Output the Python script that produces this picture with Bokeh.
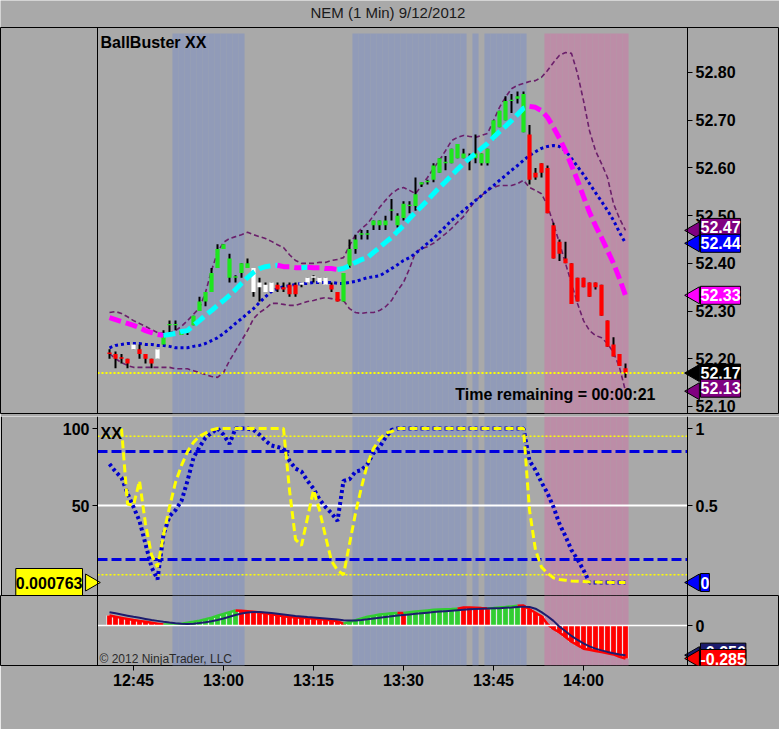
import numpy as np
from bokeh.plotting import figure
from bokeh.models import Range1d, LinearAxis, FixedTicker, Label, NumeralTickFormatter
from bokeh.layouts import column
from bokeh.embed import file_html
from bokeh.resources import INLINE

# ---------------- data ----------------
title_text = "NEM (1 Min)  9/12/2012"
first_bar = "12:41"
tick_labels = ["12:45", "13:00", "13:15", "13:30", "13:45", "14:00"]
price_ticks = [52.10, 52.20, 52.30, 52.40, 52.50, 52.60, 52.70, 52.80]

opens = [
    52.21, 52.21, 52.20, 52.20, 52.22, 52.22, 52.21, 52.20, 52.20, 52.23,
    52.27, 52.27, 52.25, 52.255, 52.27, 52.30, 52.32, 52.34, 52.39, 52.43,
    52.41, 52.37, 52.38, 52.39, 52.39, 52.36, 52.34, 52.34, 52.355, 52.35,
    52.355, 52.355, 52.355, 52.36, 52.37, 52.37, 52.37, 52.355, 52.34, 52.32,
    52.395, 52.43, 52.46, 52.46, 52.48, 52.48, 52.48, 52.51, 52.48, 52.495,
    52.52, 52.52, 52.565, 52.57, 52.575, 52.59, 52.61, 52.61, 52.62, 52.62,
    52.62, 52.62, 52.61, 52.61, 52.66, 52.685, 52.70, 52.74, 52.745, 52.755,
    52.67, 52.59, 52.61, 52.60, 52.48, 52.445, 52.41, 52.40, 52.37, 52.37,
    52.36, 52.36, 52.355, 52.28, 52.23, 52.21, 52.18]
highs = [
    52.22, 52.215, 52.21, 52.20, 52.23, 52.23, 52.21, 52.20, 52.22, 52.26,
    52.28, 52.28, 52.26, 52.26, 52.29, 52.33, 52.34, 52.39, 52.44, 52.44,
    52.42, 52.375, 52.40, 52.41, 52.39, 52.37, 52.36, 52.36, 52.36, 52.36,
    52.36, 52.36, 52.36, 52.37, 52.375, 52.37, 52.37, 52.36, 52.34, 52.38,
    52.45, 52.46, 52.47, 52.47, 52.49, 52.49, 52.50, 52.535, 52.505, 52.53,
    52.53, 52.58, 52.57, 52.575, 52.61, 52.62, 52.625, 52.64, 52.65, 52.64,
    52.63, 52.67, 52.63, 52.64, 52.70, 52.72, 52.75, 52.755, 52.76, 52.76,
    52.69, 52.60, 52.61, 52.605, 52.485, 52.45, 52.445, 52.40, 52.37, 52.37,
    52.36, 52.36, 52.355, 52.28, 52.245, 52.21, 52.19]
lows = [
    52.20, 52.18, 52.19, 52.18, 52.22, 52.20, 52.19, 52.18, 52.20, 52.23,
    52.255, 52.26, 52.25, 52.25, 52.27, 52.30, 52.31, 52.34, 52.39, 52.43,
    52.36, 52.36, 52.37, 52.39, 52.33, 52.32, 52.34, 52.34, 52.34, 52.34,
    52.33, 52.33, 52.35, 52.36, 52.36, 52.36, 52.355, 52.34, 52.32, 52.32,
    52.39, 52.42, 52.45, 52.45, 52.47, 52.47, 52.47, 52.49, 52.475, 52.49,
    52.505, 52.51, 52.56, 52.565, 52.57, 52.59, 52.595, 52.61, 52.62, 52.62,
    52.595, 52.61, 52.605, 52.605, 52.66, 52.685, 52.70, 52.715, 52.735, 52.675,
    52.565, 52.575, 52.58, 52.505, 52.41, 52.405, 52.40, 52.315, 52.32, 52.35,
    52.33, 52.345, 52.29, 52.225, 52.205, 52.185, 52.16]
closes = [
    52.21, 52.20, 52.20, 52.19, 52.23, 52.21, 52.20, 52.19, 52.22, 52.25,
    52.27, 52.27, 52.26, 52.26, 52.29, 52.32, 52.34, 52.38, 52.43, 52.44,
    52.37, 52.37, 52.40, 52.40, 52.34, 52.35, 52.355, 52.36, 52.345, 52.345,
    52.335, 52.335, 52.36, 52.37, 52.37, 52.36, 52.355, 52.345, 52.32, 52.38,
    52.43, 52.45, 52.46, 52.46, 52.49, 52.49, 52.49, 52.51, 52.50, 52.525,
    52.52, 52.545, 52.57, 52.57, 52.605, 52.62, 52.61, 52.64, 52.65, 52.63,
    52.62, 52.63, 52.63, 52.64, 52.70, 52.72, 52.74, 52.74, 52.75, 52.675,
    52.575, 52.58, 52.59, 52.505, 52.41, 52.42, 52.40, 52.315, 52.32, 52.35,
    52.33, 52.35, 52.29, 52.225, 52.205, 52.185, 52.17]
# bar paint state (runs): R red, G green, W white
bar_color_runs = [("R", 4), ("W", 1), ("R", 3), ("W", 1), ("G", 15), ("W", 4),
                  ("R", 4), ("W", 5), ("R", 2), ("G", 31), ("R", 17)]
# background session shading (runs): . none, b blue, p pink
shade_runs = [(".", 11), ("b", 12), (".", 18), ("b", 19), (".", 1), ("b", 1),
              (".", 1), ("b", 7), (".", 3), ("p", 14)]

main_ma = [
    52.286, 52.282, 52.278, 52.274, 52.270, 52.265, 52.259, 52.255, 52.251, 52.249,
    52.251, 52.253, 52.257, 52.259, 52.270, 52.280, 52.291, 52.301, 52.312, 52.322,
    52.333, 52.345, 52.358, 52.370, 52.381, 52.389, 52.393, 52.395, 52.396, 52.393,
    52.393, 52.391, 52.391, 52.392, 52.391, 52.391, 52.389, 52.389, 52.387, 52.389,
    52.395, 52.402, 52.408, 52.412, 52.423, 52.433, 52.444, 52.454, 52.467, 52.479,
    52.494, 52.507, 52.519, 52.532, 52.546, 52.559, 52.571, 52.584, 52.597, 52.609,
    52.620, 52.630, 52.641, 52.651, 52.664, 52.676, 52.687, 52.699, 52.712, 52.725,
    52.729, 52.727, 52.720, 52.706, 52.685, 52.662, 52.636, 52.605, 52.574, 52.540,
    52.507, 52.479, 52.454, 52.427, 52.400, 52.368, 52.333]
slow_ma = [
    52.223, 52.228, 52.230, 52.232, 52.232, 52.232, 52.230, 52.230, 52.228, 52.228,
    52.226, 52.223, 52.223, 52.223, 52.226, 52.228, 52.232, 52.238, 52.244, 52.253,
    52.263, 52.274, 52.284, 52.295, 52.305, 52.318, 52.330, 52.341, 52.347, 52.351,
    52.353, 52.356, 52.358, 52.358, 52.360, 52.360, 52.360, 52.360, 52.358, 52.358,
    52.360, 52.362, 52.366, 52.370, 52.372, 52.374, 52.381, 52.389, 52.397, 52.406,
    52.412, 52.421, 52.431, 52.442, 52.452, 52.465, 52.477, 52.490, 52.500, 52.511,
    52.521, 52.532, 52.542, 52.553, 52.563, 52.574, 52.584, 52.595, 52.605, 52.616,
    52.626, 52.634, 52.641, 52.645, 52.647, 52.645, 52.636, 52.620, 52.603, 52.586,
    52.567, 52.548, 52.530, 52.511, 52.490, 52.465, 52.442]
upper_band = [
    52.297, 52.299, 52.295, 52.288, 52.280, 52.274, 52.268, 52.261, 52.255, 52.253,
    52.255, 52.259, 52.268, 52.280, 52.293, 52.307, 52.339, 52.385, 52.423, 52.444,
    52.452, 52.456, 52.460, 52.465, 52.460, 52.456, 52.452, 52.446, 52.439, 52.433,
    52.418, 52.406, 52.400, 52.400, 52.400, 52.402, 52.402, 52.406, 52.408, 52.412,
    52.437, 52.460, 52.473, 52.483, 52.500, 52.517, 52.532, 52.546, 52.555, 52.559,
    52.553, 52.546, 52.563, 52.580, 52.599, 52.616, 52.636, 52.657, 52.664, 52.668,
    52.666, 52.664, 52.668, 52.672, 52.699, 52.727, 52.748, 52.766, 52.773, 52.777,
    52.781, 52.783, 52.790, 52.804, 52.821, 52.836, 52.842, 52.840, 52.798, 52.741,
    52.678, 52.636, 52.609, 52.580, 52.525, 52.494, 52.469]
lower_band = [
    52.211, 52.200, 52.192, 52.186, 52.182, 52.182, 52.182, 52.182, 52.182, 52.182,
    52.182, 52.179, 52.179, 52.179, 52.175, 52.171, 52.167, 52.163, 52.161, 52.171,
    52.196, 52.217, 52.238, 52.259, 52.284, 52.297, 52.305, 52.316, 52.316, 52.314,
    52.312, 52.312, 52.316, 52.320, 52.322, 52.326, 52.328, 52.326, 52.324, 52.322,
    52.305, 52.297, 52.295, 52.297, 52.297, 52.301, 52.309, 52.322, 52.343, 52.360,
    52.389, 52.423, 52.431, 52.435, 52.442, 52.452, 52.462, 52.473, 52.486, 52.498,
    52.515, 52.532, 52.542, 52.553, 52.559, 52.563, 52.563, 52.563, 52.567, 52.574,
    52.559, 52.553, 52.546, 52.521, 52.483, 52.442, 52.400, 52.358, 52.316, 52.280,
    52.259, 52.249, 52.244, 52.232, 52.213, 52.182, 52.132]

nan = float("nan")
fast_osc = [
    nan, nan, 100, 51, 50, 66, 38, 18, 10, 31,
    49, 65, 76, 85, 91, 95, 97, 99, 100, 100,
    100, 100, 100, 100, 100, 100, 100, 100, 100, 100,
    60, 28, 24, 42, 60, 47, 30, 14, 8, 5,
    25, 45, 62, 77, 87, 93, 97, 98, 100, 100,
    100, 100, 100, 100, 100, 100, 100, 100, 100, 100,
    100, 100, 100, 100, 100, 100, 100, 100, 100, 100,
    47, 21, 10, 6, 3, 2, 1.5, 1, 0.8, 0.6,
    0.4, 0.3, 0.2, 0.1, 0.05, 0.02, 0.000763]
slow_osc = [
    0.77, 0.72, 0.68, 0.58, 0.49, 0.40, 0.25, 0.10, 0.02, 0.31,
    0.43, 0.47, 0.53, 0.66, 0.81, 0.88, 0.94, 0.97, 1.00, 0.96,
    0.90, 1.00, 1.00, 1.00, 0.99, 0.96, 0.92, 0.89, 0.88, 0.87,
    0.79, 0.74, 0.72, 0.66, 0.61, 0.54, 0.49, 0.45, 0.40, 0.66,
    0.67, 0.72, 0.73, 0.77, 0.84, 0.88, 0.94, 0.99, 1.00, 1.00,
    1.00, 1.00, 1.00, 1.00, 1.00, 1.00, 1.00, 1.00, 1.00, 1.00,
    1.00, 1.00, 1.00, 1.00, 1.00, 1.00, 1.00, 1.00, 1.00, 1.00,
    0.79, 0.73, 0.65, 0.58, 0.49, 0.38, 0.30, 0.21, 0.15, 0.08,
    0.0, 0.0, 0.0, 0.0, 0.0, 0.0, 0.0]
osc_levels_yellow = [95, 5]
osc_levels_blue = [85, 15]
osc_mid = 50

hist = [
    0.086, 0.075, 0.066, 0.057, 0.048, 0.040, 0.032, 0.024, 0.016, 0.008,
    0.009, 0.012, 0.016, 0.024, 0.032, 0.042, 0.054, 0.068, 0.084, 0.100,
    0.115, 0.130, 0.128, 0.124, 0.119, 0.112, 0.104, 0.096, 0.088, 0.080,
    0.074, 0.070, 0.066, 0.062, 0.058, 0.055, 0.050, 0.045, 0.035, 0.015,
    0.030, 0.045, 0.060, 0.075, 0.085, 0.095, 0.100, 0.105, 0.108, 0.107,
    0.115, 0.120, 0.125, 0.130, 0.135, 0.138, 0.140, 0.142, 0.145, 0.155,
    0.155, 0.153, 0.151, 0.150, 0.152, 0.156, 0.160, 0.165, 0.170, 0.172,
    0.140, 0.110, 0.080, 0.010, -0.030, -0.060, -0.100, -0.140, -0.170, -0.200,
    -0.210, -0.220, -0.230, -0.240, -0.250, -0.270, -0.285]
hist_color_runs = [("R", 10), ("G", 12), ("R", 18), ("G", 9), ("R", 1), ("G", 9),
                   ("R", 5), ("G", 5), ("R", 18)]
signal = [
    0.115, 0.105, 0.095, 0.085, 0.075, 0.066, 0.057, 0.048, 0.040, 0.032,
    0.025, 0.019, 0.015, 0.014, 0.016, 0.021, 0.028, 0.037, 0.048, 0.061,
    0.075, 0.090, 0.104, 0.113, 0.117, 0.116, 0.112, 0.107, 0.101, 0.095,
    0.089, 0.083, 0.078, 0.073, 0.069, 0.065, 0.061, 0.057, 0.052, 0.046,
    0.043, 0.044, 0.048, 0.053, 0.060, 0.067, 0.074, 0.080, 0.086, 0.091,
    0.096, 0.101, 0.106, 0.111, 0.116, 0.120, 0.124, 0.128, 0.132, 0.136,
    0.140, 0.142, 0.144, 0.146, 0.148, 0.150, 0.153, 0.156, 0.160, 0.163,
    0.160, 0.145, 0.115, 0.080, 0.040, -0.010, -0.050, -0.090, -0.125, -0.155,
    -0.180, -0.200, -0.215, -0.228, -0.240, -0.250, -0.256]
time_remaining = "Time remaining = 00:00:21"

# ---------------- helpers ----------------
def expand(runs):
    out = []
    for k, n in runs:
        out.extend([k] * n)
    return out

N = len(closes)
bar_cols = expand(bar_color_runs)
shade = expand(shade_runs)
hist_cols = expand(hist_color_runs)
for arr in (opens, highs, lows, main_ma, slow_ma, upper_band, lower_band,
            fast_osc, slow_osc, hist, signal, bar_cols, shade, hist_cols):
    assert len(arr) == N, len(arr)

def to_min(s):
    h, m = s.split(":")
    return int(h) * 60 + int(m)

xs = np.arange(N) + to_min(first_bar)
tick_pos = [to_min(s) for s in tick_labels]

FONT = "Liberation Sans"
BG = "#A9A9A9"
BAND = {"b": "#919BB8", "p": "#BC8DA7"}
CANDLE = {"R": "#FF0000", "G": "#1EE61E", "W": "#FFFFFF"}
HIST = {"R": "#FF0000", "G": "#32CD32"}
W = 779
PX = 6.0                      # pixels per minute bar
XL = 759.0                    # left edge of the chart area (axis line)
XR = 857.333                  # price axis position
XA, XB = XL - 97 / PX, XL + (W - 97) / PX   # full canvas width


def make_fig(height, y0, y1, top, bottom, show_x):
    p = figure(width=W, height=height, x_range=Range1d(XA, XB), y_range=Range1d(y0, y1),
               output_backend="svg", toolbar_location=None,
               x_axis_location="below" if show_x else None, y_axis_location=None,
               min_border_left=0, min_border_right=0,
               min_border_top=top, min_border_bottom=bottom,
               background_fill_color=BG, border_fill_color=BG,
               outline_line_color="black")
    for g in p.grid:
        g.visible = False
    return p


def style_axis(ax, ticks, fmt=None):
    ax.ticker = FixedTicker(ticks=ticks)
    if fmt is not None:
        ax.formatter = NumeralTickFormatter(format=fmt)
    ax.major_label_text_font = FONT
    ax.major_label_text_font_size = "16px"
    ax.major_label_text_font_style = "bold"
    ax.major_label_text_color = "black"
    ax.axis_line_color = "black"
    ax.major_tick_line_color = "black"
    ax.major_tick_out = 5
    ax.major_tick_in = 0
    ax.minor_tick_line_color = None
    ax.major_label_standoff = 3


def fixed_axis(p, side, loc, ticks, fmt=None, y_range_name="default"):
    ax = LinearAxis(fixed_location=loc, y_range_name=y_range_name)
    style_axis(ax, ticks, fmt)
    p.add_layout(ax, side)
    return ax


def add_bands(p, y0, y1):
    for key, col in BAND.items():
        idx = [i for i, s in enumerate(shade) if s == key]
        r = p.vbar(x=xs[idx], width=1.02, top=y1, bottom=y0, fill_color=col, line_color=None)
        r.level = "image"


def hline(p, yv, **kw):
    p.segment(x0=[XL], y0=[yv], x1=[XR], y1=[yv], **kw)


def runs_by_segment(vals, seg_cats, palette):
    rx, ry, rc = [], [], []
    start = 0
    nseg = len(seg_cats)
    for i in range(1, nseg + 1):
        if i == nseg or seg_cats[i] != seg_cats[start]:
            rx.append(list(xs[start:i + 1]))
            ry.append(list(vals[start:i + 1]))
            rc.append(palette[seg_cats[start]])
            start = i
    return rx, ry, rc


def tag(p, yv, text, bg, fg, side="right", y_range_name="default", nudge=0):
    if side == "right":
        p.scatter(x=[XR + 7 / PX], y=[yv], marker="triangle", angle=np.pi / 2, size=17,
                  fill_color=bg, line_color="black", line_width=1, y_range_name=y_range_name)
        p.add_layout(Label(x=XR, y=yv, x_offset=13, y_offset=nudge, text=text, text_align="left",
                           text_baseline="middle", text_color=fg, text_font=FONT,
                           text_font_size="16px", text_font_style="bold",
                           background_fill_color=bg, border_line_color="black",
                           padding=(0, 3), y_range_name=y_range_name))
    else:
        p.scatter(x=[XL - 7 / PX], y=[yv], marker="triangle", angle=-np.pi / 2, size=17,
                  fill_color=bg, line_color="black", line_width=1, y_range_name=y_range_name)
        p.add_layout(Label(x=XL, y=yv, x_offset=-15, y_offset=nudge, text=text, text_align="right",
                           text_baseline="middle", text_color=fg, text_font=FONT,
                           text_font_size="16px", text_font_style="bold",
                           background_fill_color=bg, border_line_color="black",
                           padding=(0, 8), y_range_name=y_range_name))


def text_label(p, x, y, text, xo, yo, size="16px", style="bold", color="black", align="left"):
    p.add_layout(Label(x=x, y=y, x_offset=xo, y_offset=yo, text=text, text_align=align,
                       text_baseline="middle", text_color=color, text_font=FONT,
                       text_font_size=size, text_font_style=style))

# ---------------- title strip ----------------
TH = 27
pt = figure(width=W, height=TH, x_range=Range1d(0, W), y_range=Range1d(0, TH),
            output_backend="svg", toolbar_location=None,
            x_axis_location=None, y_axis_location=None,
            min_border=0, background_fill_color=BG, border_fill_color=BG,
            outline_line_color=None)
for g in pt.grid:
    g.visible = False
pt.add_layout(Label(x=W / 2, y=TH - 12, text=title_text, text_align="center",
                    text_baseline="middle", text_font=FONT, text_font_size="15px",
                    text_color="#1A1A1A"))

# ---------------- top panel (price) ----------------
PPX = 477.1                       # pixels per price unit
PY0, PY_TOP = 52.0853, 52.8817    # chart area bottom / top (shading extent)
PY1 = PY_TOP + 6 / PPX            # frame top (outer border line)
p1 = make_fig(389, PY0, PY1, 0, 3, False)

fixed_axis(p1, "right", XR, price_ticks, "0.00")
fixed_axis(p1, "left", XL, [])

add_bands(p1, PY0, PY_TOP)
p1.line(xs, upper_band, line_color="#6B1F6B", line_width=1.6, line_dash="5 3")
p1.line(xs, lower_band, line_color="#6B1F6B", line_width=1.6, line_dash="5 3")
p1.line(xs, slow_ma, line_color="#0000CD", line_width=3, line_dash="3 3")

o = np.array(opens); c = np.array(closes)
btop = np.maximum(o, c); bbot = np.minimum(o, c)
btop = np.where(btop - bbot < 0.003, bbot + 0.003, btop)
p1.segment(x0=xs, y0=lows, x1=xs, y1=highs, line_color="black", line_width=2)
p1.vbar(x=xs, width=0.7, top=btop, bottom=bbot,
        fill_color=[CANDLE[k] for k in bar_cols], line_color=None)

ma = np.array(main_ma)
seg_dir = ["up" if d > 0 else "dn" for d in np.diff(ma)]
rx, ry, rc = runs_by_segment(ma, seg_dir, {"up": "#00FFFF", "dn": "#FF00FF"})
p1.multi_line(rx, ry, line_color=rc, line_width=5, line_dash="12 5")

hline(p1, closes[-1], line_color="#FFFF00", line_width=2, line_dash="2 2")

text_label(p1, XL, PY1, "BallBuster XX", 3, -15)
text_label(p1, XR, PY0, time_remaining, -32, 19, align="right")

tag(p1, upper_band[-1], f"{upper_band[-1]:.2f}", "#800080", "white", nudge=3)
tag(p1, slow_ma[-1], f"{slow_ma[-1]:.2f}", "#0000FF", "white")
tag(p1, main_ma[-1], f"{main_ma[-1]:.2f}", "#FF00FF", "white")
tag(p1, closes[-1], f"{closes[-1]:.2f}", "#000000", "white")
tag(p1, lower_band[-1], f"{lower_band[-1]:.2f}", "#800080", "white", nudge=3)

# ---------------- middle panel (oscillator) ----------------
OPX = 1.54                        # pixels per oscillator unit
OY0 = -8.44
OY1 = 100 + 12 / OPX
p2 = make_fig(179, OY0, OY1, 0, 0, False)
p2.outline_line_color = None
p2.extra_y_ranges = {"right": Range1d(OY0 / 100.0, OY1 / 100.0)}
fixed_axis(p2, "left", XL, [50, 100])
fixed_axis(p2, "right", XR, [0.5, 1.0], "0.[0]", y_range_name="right")
fixed_axis(p2, "left", XA + 0.5 / PX, [])
fixed_axis(p2, "right", XB - 0.5 / PX, [])

add_bands(p2, OY0, OY1)
hline(p2, osc_mid, line_color="white", line_width=2)
for lv in osc_levels_blue:
    hline(p2, lv, line_color="#0000E0", line_width=3, line_dash="10 4")
for lv in osc_levels_yellow:
    hline(p2, lv, line_color="#FFFF00", line_width=1.5, line_dash="2 2")
p2.line(xs, slow_osc, y_range_name="right", line_color="#0000CD", line_width=4, line_dash="3 3")
p2.line(xs, fast_osc, line_color="#FFFF00", line_width=3, line_dash="8 4")

text_label(p2, XL, OY1, "XX", 3, -17)
tag(p2, fast_osc[-1], f"{fast_osc[-1]:.6f}", "#FFFF00", "black", side="left")
tag(p2, slow_osc[-1], f"{slow_osc[-1]:g}", "#0000FF", "white", y_range_name="right")

# ---------------- bottom panel (histogram) ----------------
HPX = 115.8
HY0 = -40 / HPX
HY1 = 30 / HPX
p3 = make_fig(134, HY0, HY1, 0, 64, True)
axb = p3.xaxis[0]
style_axis(axb, tick_pos)
axb.axis_line_color = None
axb.major_label_standoff = 1
axb.major_label_overrides = {tp: lab for tp, lab in zip(tick_pos, tick_labels)}
fixed_axis(p3, "right", XR, [0], "0")
fixed_axis(p3, "left", XL, [])

add_bands(p3, HY0, HY1)
hv = np.array(hist)
htop = np.maximum(hv, 0); hbot = np.minimum(hv, 0)
p3.vbar(x=xs, width=1.0, top=htop, bottom=hbot, fill_color="white", line_color=None)
p3.vbar(x=xs, width=0.8, top=htop, bottom=hbot,
        fill_color=[HIST[k] for k in hist_cols], line_color=None)
hx, hy, hc = runs_by_segment(hv, hist_cols[1:], HIST)
p3.multi_line(hx, hy, line_color=hc, line_width=2.5)
hline(p3, 0, line_color="white", line_width=1.5)
p3.line(xs, signal, line_color="#1C1C6E", line_width=2)

text_label(p3, XL, HY0, "\u00A9 2012 NinjaTrader, LLC", 2, 7, size="12px",
           style="normal", color="#2A2A2A")
tag(p3, signal[-1], f"{signal[-1]:.3f}", "#1C1C6E", "white", nudge=3)
tag(p3, hist[-1], f"{hist[-1]:.3f}", "#FF0000", "white")

layout = column(pt, p1, p2, p3)
open("out.html", "w").write(file_html(layout, INLINE))
